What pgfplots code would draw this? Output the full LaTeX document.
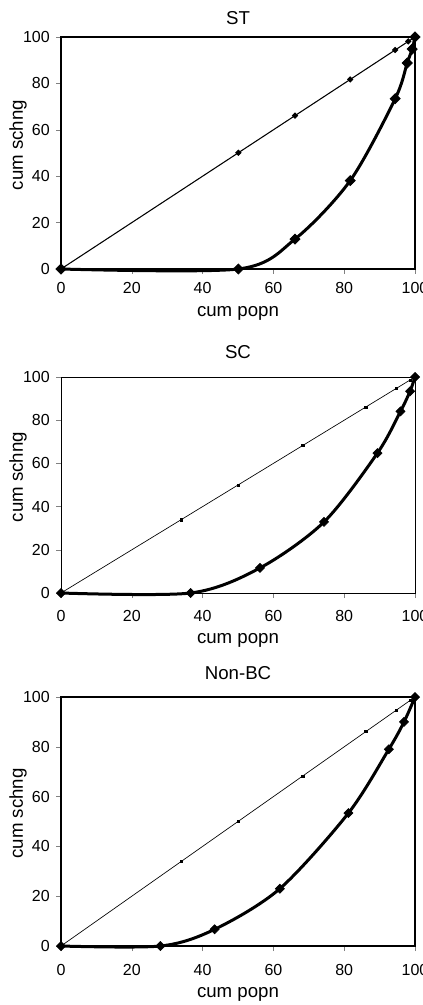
\documentclass[border=0pt]{standalone}
\usepackage{fontspec}
\setmainfont{Liberation Sans}
\usepackage{pgfplots}
\pgfplotsset{compat=1.18}

\pgfplotsset{
  lorenz/.style={
    scale only axis, width=265.5pt,
    xmin=0, xmax=100, ymin=0, ymax=100,
    xtick={0,20,...,100}, ytick={0,20,...,100},
    xtick pos=bottom, ytick pos=left,
    tick align=outside, major tick length=3.75pt,
    clip=false,
    /pgf/number format/assume math mode=true,
    tick label style={font=\fontsize{12}{14}\selectfont},
    yticklabel style={anchor=east, inner sep=0pt, xshift=-4.5pt},
    label style={font=\fontsize{14}{16}\selectfont},
    title style={font=\fontsize{14}{16}\selectfont, at={(0.5,1)}, anchor=center},
    xlabel={cum popn}, ylabel={cum schng},
    ylabel style={at={(0,0.5)}, anchor=center, yshift=32.25pt, xshift=6pt},
  },
  eq/.style={black, mark=square*, mark size=0.9pt, mark options={rotate=45}},
  curve/.style={black, line width=2.25pt, smooth, tension=0.5,
    mark=square*, mark size=2.4pt, mark options={rotate=45, line width=0.5pt}},
}

\begin{document}
\begin{tikzpicture}

% ST
\begin{axis}[lorenz, at={(45.75pt,-27.75pt)}, anchor=north west, height=174pt,
  title={ST}, title style={yshift=8.25pt},
  axis line style={line width=1.2pt},
  xticklabel style={anchor=center, yshift=-10.5pt},
  xlabel style={at={(0.5,0)}, anchor=center, yshift=-33pt}]
\addplot[eq, line width=0.8pt, mark size=1.3pt] coordinates {
  (0,0) (50.1,50.1) (66.1,66.1) (81.7,81.7) (94.4,94.4) (98.1,98.1) (100,100)};
\addplot[curve, mark size=2.7pt] coordinates {
  (0,0) (50.1,0) (66.1,12.9) (81.7,38.1) (94.4,73.4) (97.8,88.8) (99.2,94.8) (100,100)};
\end{axis}

% SC
\begin{axis}[lorenz, at={(45.75pt,-282.75pt)}, anchor=north west, height=162pt,
  title={SC}, title style={yshift=12.75pt},
  axis line style={line width=0.6pt},
  xticklabel style={anchor=center, yshift=-13.5pt},
  xlabel style={at={(0.5,0)}, anchor=center, yshift=-35.25pt}]
\addplot[eq, line width=0.5pt, mark=square*, mark size=0.8pt, mark options={rotate=0}] coordinates {
  (0,0) (33.9,33.9) (50.0,50.0) (68.3,68.3) (86.1,86.1) (94.8,94.8) (98.6,98.6) (100,100)};
\addplot[curve] coordinates {
  (0,0) (36.6,0) (56.2,11.6) (74.3,32.9) (89.4,64.8) (95.9,84.1) (98.6,93.4) (100,100)};
\end{axis}

% Non-BC
\begin{axis}[lorenz, at={(45.75pt,-522.75pt)}, anchor=north west, height=186.75pt,
  title={Non-BC}, title style={yshift=12pt},
  axis line style={line width=1.2pt},
  xticklabel style={anchor=center, yshift=-14.25pt},
  xlabel style={at={(0.5,0)}, anchor=center, yshift=-36pt}]
\addplot[eq, line width=0.5pt, mark=square*, mark size=0.8pt, mark options={rotate=0}] coordinates {
  (0,0) (33.9,33.9) (50.0,50.0) (68.3,68.3) (86.1,86.1) (94.8,94.8) (98.6,98.6) (100,100)};
\addplot[curve] coordinates {
  (0,0) (28.1,0) (43.4,6.7) (61.8,23.0) (81.2,53.4) (92.6,79.0) (96.9,90.0) (100,100)};
\end{axis}

\pgfresetboundingbox
\path[use as bounding box] (0,0) rectangle (317.25pt,-753.75pt);
\end{tikzpicture}
\end{document}
